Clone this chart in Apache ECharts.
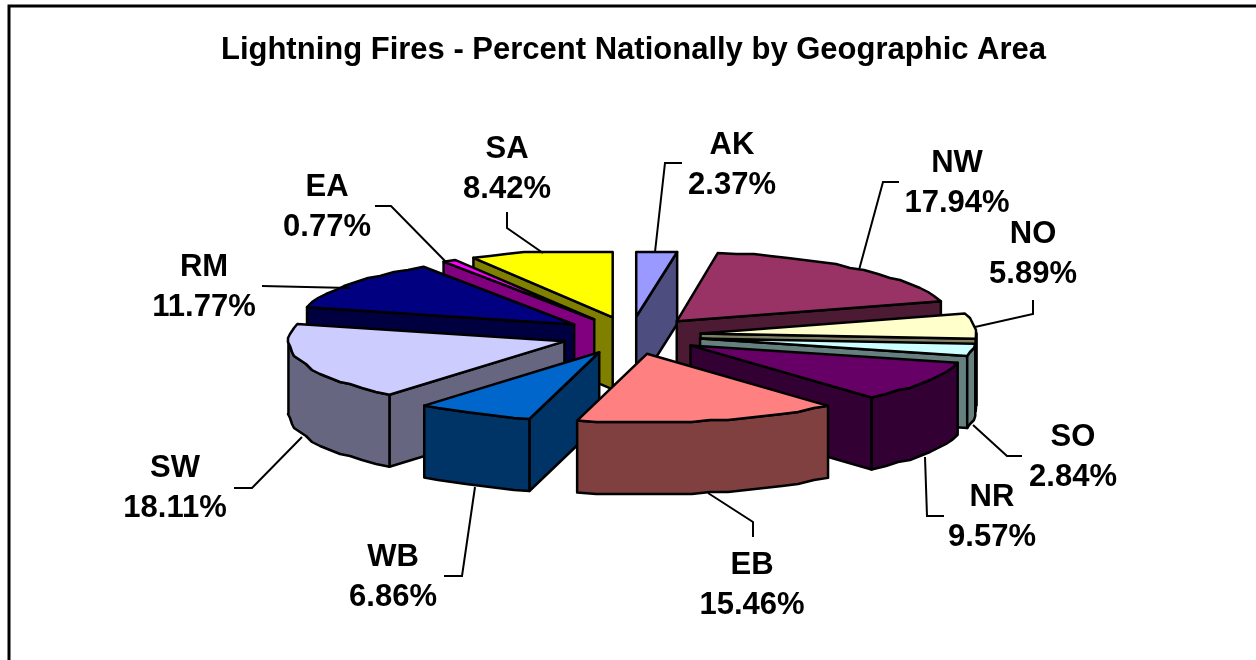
<!DOCTYPE html>
<html>
<head>
<meta charset="utf-8">
<style>html,body{margin:0;padding:0;background:#fff}#c{width:1256px;height:660px}</style>
<script src="https://cdn.jsdelivr.net/npm/echarts@6/dist/echarts.min.js"></script>
</head>
<body>
<div id="c"></div>
<script>
const titleText = 'Lightning Fires - Percent Nationally by Geographic Area';
const areas = ['AK','NW','NO','SO','NR','EB','WB','SW','RM','EA','SA'];
const shares = [2.37,17.94,5.89,2.84,9.57,15.46,6.86,18.11,11.77,0.77,8.42];
const topColors = ['#9999FF','#993366','#FFFFCC','#CCFFFF','#660066','#FF8080','#0066CC','#CCCCFF','#000080','#FF00FF','#FFFF00'];
const wallColors = ['#4D4D80','#4D1A33','#808066','#668080','#330033','#804040','#003366','#666680','#000040','#800080','#808000'];

// label anchor (centre x, first-line y) per area
const labelAnchors = [[732,145],[957,163],[1033,234],[1073,437],[992,497],[752,565],[393,557],[175,468],[204,267],[327,187],[507,149]];
// leader line routes per area
const leaderRoutes = [
  [[682,163],[665,163],[655,252]],
  [[899,182],[883,182],[859,270]],
  [[1033,300],[1033,314],[975,327]],
  [[1022,456],[1007,456],[973,425]],
  [[944,516],[927,516],[925,457]],
  [[753,537],[753,522],[708,493]],
  [[444,576],[462,576],[475,487]],
  [[234,488],[252,488],[302,437]],
  [[262,286],[350,288]],
  [[375,206],[391,206],[447,263]],
  [[507,212],[507,228],[543,253]]
];

// projection of the tilted pie; topLimit is the plot-area ceiling, snap the renderer's coarse rim
const pie = {cx:631, cy:335.5, rx:276, ry:69, ex:70, ey:18.8, depth:72, step:4, topLimit:252, snapX:2, snapY:2};

const total = shares.reduce((a,b)=>a+b,0);
let acc = 0;
const spans = shares.map(v => { const a0 = acc/total*360; acc += v; return [a0, acc/total*360]; });
const rad = d => d*Math.PI/180;
const paintOrder = areas.map((_,i)=>i).sort((p,q)=>{
  const bp=(spans[p][0]+spans[p][1])/2, bq=(spans[q][0]+spans[q][1])/2;
  return -Math.cos(rad(bp)) + Math.cos(rad(bq));
});

function slice(params, api){
  const i = api.value(0);
  const [a0,a1] = spans[i];
  const b = (a0+a1)/2;
  const ax = pie.cx + pie.ex*Math.sin(rad(b));
  const ay = pie.cy - pie.ey*Math.cos(rad(b));
  const rimPt = (a,snap) => {
    let x = ax + pie.rx*Math.sin(rad(a));
    let y = Math.max(ay - pie.ry*Math.cos(rad(a)), pie.topLimit);
    if (snap){ x = Math.round(x/pie.snapX)*pie.snapX; y = Math.round(y/pie.snapY)*pie.snapY; }
    return [x,y];
  };
  const down = p => [p[0], p[1]+pie.depth];
  const n = Math.max(1, Math.ceil((a1-a0)/pie.step));
  const rim = [];
  for (let k=0;k<=n;k++) rim.push(a0+(a1-a0)*k/n);
  const isEnd = a => a===a0 || a===a1;
  const apex=[ax,ay];
  const base={stroke:'#000',lineWidth:2.5,lineJoin:'round'};
  const faces=[];
  const poly=(pts,fill)=>faces.push({type:'polygon',shape:{points:pts},style:Object.assign({fill},base)});
  if (Math.sin(rad(a0))<0){ const p=rimPt(a0,false); poly([apex,p,down(p),down(apex)],wallColors[i]); }
  if (Math.sin(rad(a1))>0){ const p=rimPt(a1,false); poly([apex,p,down(p),down(apex)],wallColors[i]); }
  const lo=Math.max(a0,90), hi=Math.min(a1,270);
  if (hi>lo){
    const mids=rim.filter(a=>a>lo&&a<hi);
    const arc=[rimPt(lo,false)].concat(mids.map(a=>rimPt(a,true))).concat([rimPt(hi,false)]);
    poly(arc.concat(arc.slice().reverse().map(down)),wallColors[i]);
  }
  poly([apex].concat(rim.map(a=>rimPt(a,!isEnd(a)))),topColors[i]);
  return {type:'group',children:faces};
}

function label(params, api){
  const i = api.value(0);
  const [x,y] = labelAnchors[i];
  const font = 'bold 31px "Liberation Sans", Arial, sans-serif';
  const txt=(s,yy)=>({type:'text',style:{text:s,x,y:yy,font,fill:'#000',align:'center',verticalAlign:'middle'}});
  return {type:'group',children:[
    {type:'polyline',shape:{points:leaderRoutes[i]},style:{fill:'none',stroke:'#000',lineWidth:2}},
    txt(areas[i],y),
    txt(shares[i].toFixed(2)+'%',y+40)
  ]};
}

const chart = echarts.init(document.getElementById('c'),null,{renderer:'canvas'});
chart.setOption({
  animation:false,
  backgroundColor:'#fff',
  title:{text:titleText,left:628.5,top:29.5,textAlign:'center',
    textStyle:{fontFamily:'"Liberation Sans", Arial, sans-serif',fontWeight:'bold',fontSize:31,color:'#000'}},
  graphic:[{type:'polyline',silent:true,shape:{points:[[9,660],[9,6],[1256,6]]},style:{fill:'none',stroke:'#000',lineWidth:3}}],
  series:[
    {type:'custom',coordinateSystem:'none',silent:true,z:2,renderItem:slice,data:paintOrder.map(i=>[i])},
    {type:'custom',coordinateSystem:'none',silent:true,z:3,renderItem:label,data:areas.map((_,i)=>[i])}
  ]
});
</script>
</body>
</html>
